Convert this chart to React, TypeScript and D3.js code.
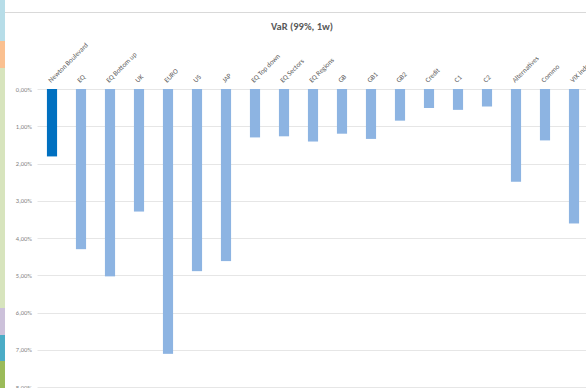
import React from 'react';
import { scaleBand, scaleLinear, select, range } from 'd3';

const width = 586;
const height = 388;

// categories and VaR values (in %)
const categories = [
    'Newton Boulevard', 'EQ', 'EQ Bottom up', 'UK', 'EURO', 'US', 'JAP',
    'EQ Top down', 'EQ Sectors', 'EQ Regions', 'GB', 'GB1', 'GB2', 'Credit',
    'C1', 'C2', 'Alternatives', 'Commo', 'VIX index'
];
const varValues = [
    1.81, 4.30, 5.03, 3.29, 7.11, 4.89, 4.62,
    1.30, 1.27, 1.41, 1.20, 1.34, 0.85, 0.51,
    0.56, 0.47, 2.49, 1.38, 3.61
];
const tickValues = [0, 1, 2, 3, 4, 5, 6, 7, 8];
const tickLabels = ['0,00%', '1,00%', '2,00%', '3,00%', '4,00%', '5,00%', '6,00%', '7,00%', '8,00%'];

// left side colour strip (decorative)
const stripColors = ['#b7dde8', '#fac090', '#d7e4bd', '#ccc1da', '#4bacc6', '#9bbb59'];
const stripStops = [0, 41, 68, 308, 335, 361, 388];

const dims = {
    plotLeft: 37.5,
    plotTop: 89,
    plotBottom: 387,
};

const App: React.FC = () => {
    const ref = React.useRef<SVGSVGElement>(null);

    React.useEffect(() => {
        const svg = select(ref.current);
        svg.selectAll('*').remove();

        const font = 'Calibri, Carlito, "Open Sans", "Liberation Sans", sans-serif';

        // colour strip
        svg.append('g').selectAll('rect').data(stripColors).enter().append('rect')
            .attr('x', 0)
            .attr('y', (_, i) => stripStops[i])
            .attr('width', 5)
            .attr('height', (_, i) => stripStops[i + 1] - stripStops[i])
            .attr('fill', d => d);

        svg.append('line')
            .attr('x1', 5).attr('x2', width)
            .attr('y1', 12.5).attr('y2', 12.5)
            .attr('stroke', '#d9d9d9');

        svg.append('text')
            .attr('x', 302).attr('y', 30)
            .attr('text-anchor', 'middle')
            .attr('font-family', font)
            .attr('font-size', 10.5)
            .attr('font-weight', 600)
            .attr('fill', '#595959')
            .text('VaR (99%, 1w)');

        const y = scaleLinear().domain([0, 8]).range([dims.plotTop, dims.plotBottom]);
        const x = scaleBand()
            .domain(categories)
            .range([dims.plotLeft, dims.plotLeft + categories.length * 29])
            .paddingInner(0.65)
            .paddingOuter(0.325);

        // gridlines
        svg.append('g').selectAll('line').data(tickValues).enter().append('line')
            .attr('x1', dims.plotLeft).attr('x2', width)
            .attr('y1', d => Math.round(y(d)) + 0.5)
            .attr('y2', d => Math.round(y(d)) + 0.5)
            .attr('stroke', '#e6e6e6');

        svg.append('g').selectAll('text').data(tickValues).enter().append('text')
            .attr('x', 32)
            .attr('y', d => y(d) + 2.5)
            .attr('text-anchor', 'end')
            .attr('font-family', font)
            .attr('font-size', 6.5)
            .attr('fill', '#7f7f7f')
            .text((_, i) => tickLabels[i]);

        // bars
        svg.append('g').selectAll('rect').data(range(categories.length)).enter().append('rect')
            .attr('x', i => x(categories[i])!)
            .attr('y', y(0))
            .attr('width', x.bandwidth())
            .attr('height', i => y(varValues[i]) - y(0))
            .attr('fill', i => (i === 0 ? '#0070c0' : '#8db4e2'));

        // category labels
        svg.append('g').selectAll('text').data(categories).enter().append('text')
            .attr('transform', d => `translate(${x(d)! + x.bandwidth() / 2 - 1}, 83) rotate(-45)`)
            .attr('text-anchor', 'start')
            .attr('font-family', font)
            .attr('font-size', 7)
            .attr('fill', '#595959')
            .text(d => d);
    }, []);

    return (
        <div style={{ position: 'fixed', top: 0, left: 0, background: 'white' }}>
            <svg ref={ref} width={width} height={height} style={{ display: 'block' }} />
        </div>
    );
};

export default App;
